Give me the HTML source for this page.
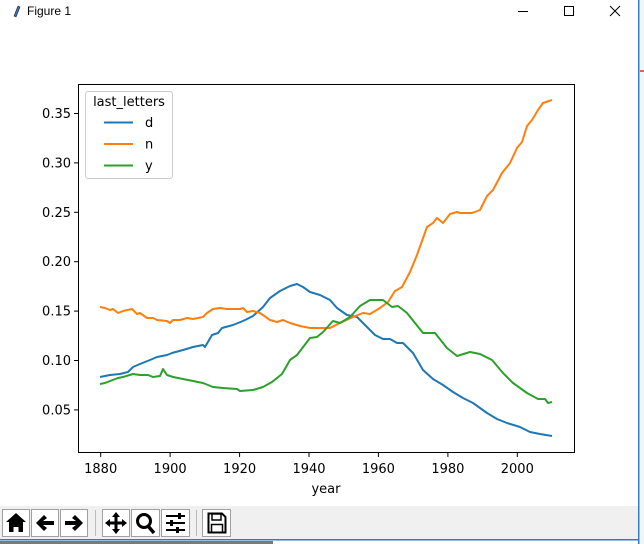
<!DOCTYPE html>
<html><head><meta charset="utf-8"><style>
html,body{margin:0;padding:0;width:644px;height:544px;overflow:hidden;background:#fff;}
svg{display:block;font-family:"DejaVu Sans","Liberation Sans",sans-serif;}
</style></head><body>
<svg width="644" height="544" viewBox="0 0 644 544" xmlns="http://www.w3.org/2000/svg">
<rect width="644" height="544" fill="#fff"/>
<!-- title bar -->
<path d="M14 16 L18 6 L20 7 L16 17 Z" fill="#3a6fc4" stroke="#222" stroke-width="0.6"/>
<text x="27" y="15" font-size="12" font-family="Liberation Sans, sans-serif" fill="#000">Figure 1</text>
<line x1="518" y1="11.5" x2="528" y2="11.5" stroke="#000" stroke-width="1"/>
<rect x="564.5" y="6.5" width="9" height="9" fill="none" stroke="#000" stroke-width="1"/>
<path d="M610 6 L620 16 M620 6 L610 16" stroke="#000" stroke-width="1"/>
<!-- right edge -->
<rect x="638" y="0" width="1.5" height="544" fill="#2b7bd3"/>
<rect x="640" y="0" width="4" height="544" fill="#f4f4f4"/>
<rect x="640" y="70" width="4" height="2" fill="#e06060"/>
<!-- axes -->
<rect x="78.5" y="84.5" width="496" height="368" fill="none" stroke="#000" stroke-width="1"/>
<g stroke="#000" stroke-width="1">
<line x1="74" y1="113.5" x2="78" y2="113.5"/><line x1="74" y1="162.9" x2="78" y2="162.9"/>
<line x1="74" y1="212.3" x2="78" y2="212.3"/><line x1="74" y1="261.7" x2="78" y2="261.7"/>
<line x1="74" y1="311.1" x2="78" y2="311.1"/><line x1="74" y1="360.5" x2="78" y2="360.5"/>
<line x1="74" y1="409.9" x2="78" y2="409.9"/>
<line x1="100.7" y1="453" x2="100.7" y2="457"/><line x1="170.1" y1="453" x2="170.1" y2="457"/>
<line x1="239.6" y1="453" x2="239.6" y2="457"/><line x1="309" y1="453" x2="309" y2="457"/>
<line x1="378.4" y1="453" x2="378.4" y2="457"/><line x1="447.9" y1="453" x2="447.9" y2="457"/>
<line x1="517.3" y1="453" x2="517.3" y2="457"/>
</g>
<g font-size="13" fill="#000" text-anchor="end">
<text x="71" y="118">0.35</text><text x="71" y="167.5">0.30</text><text x="71" y="217">0.25</text>
<text x="71" y="266">0.20</text><text x="71" y="315.5">0.15</text><text x="71" y="365">0.10</text>
<text x="71" y="414.5">0.05</text>
</g>
<g font-size="13" fill="#000" text-anchor="middle">
<text x="100.7" y="473">1880</text><text x="170.1" y="473">1900</text><text x="239.6" y="473">1920</text>
<text x="309" y="473">1940</text><text x="378.4" y="473">1960</text><text x="447.9" y="473">1980</text>
<text x="517.3" y="473">2000</text>
<text x="326" y="493">year</text>
</g>
<g fill="none" stroke-width="2" stroke-linejoin="round">
<polyline stroke="#1f77b4" points="100,377 110,375 120,374 128,372 133,367 140,364 150,360 157,357 167,355 172,353 183,350 193,347 203,345 205,347 212,335 218,333 222,328 233,325 243,321 253,316 263,307 270,298 280,291 290,286 297,284 303,287 310,292 320,295 330,300 337,308 347,315 357,317 363,323 375,335 383,339 390,339 397,343 403,343 413,353 423,370 433,379 443,385 453,392 463,398 473,403 487,413 497,419 507,423 520,427 530,432 540,434 552,436"/>
<polyline stroke="#ff7f0e" points="100,307 105,308 110,310 113,309 118,313 123,311 132,309 137,314 140,313 147,318 153,318 157,320 167,321 170,323 173,320 180,320 187,318 193,319 203,317 207,313 213,309 220,308 227,309 240,309 243,308 247,312 253,311 260,313 270,320 277,322 283,320 290,323 300,326 310,328 320,328 330,328 340,323 353,317 363,313 370,314 380,308 388,302 395,291 402,287 410,272 417,255 427,227 433,223 437,218 443,223 450,214 457,212 460,213 472,213 480,210 487,196 493,190 502,173 510,163 517,148 522,142 527,126 532,120 538,110 543,103 552,100"/>
<polyline stroke="#2ca02c" points="100,384 105,383 110,381 118,378 123,377 133,374 140,375 148,375 153,377 160,376 163,369 167,375 173,377 183,379 193,381 203,383 213,387 223,388 237,389 240,391 253,390 263,387 272,382 282,374 290,360 297,355 310,338 317,337 323,332 333,321 340,323 350,317 360,306 370,300 383,300 392,307 398,306 407,313 415,323 423,333 435,333 447,348 457,356 470,352 480,354 492,360 503,373 513,383 527,393 538,399 545,399 548,403 552,402"/>
</g>
<!-- legend -->
<rect x="85.5" y="91.5" width="87" height="87" rx="2.5" fill="#fff" fill-opacity="0.8" stroke="#ccc" stroke-width="1"/>
<text x="129" y="106" font-size="13" text-anchor="middle" fill="#000">last_letters</text>
<line x1="104" y1="122.5" x2="133" y2="122.5" stroke="#1f77b4" stroke-width="2"/>
<line x1="104" y1="144" x2="133" y2="144" stroke="#ff7f0e" stroke-width="2"/>
<line x1="104" y1="165.5" x2="133" y2="165.5" stroke="#2ca02c" stroke-width="2"/>
<g font-size="13" fill="#000"><text x="145" y="127">d</text><text x="145" y="148.5">n</text><text x="145" y="170">y</text></g>
<!-- toolbar -->
<rect x="0" y="506" width="638" height="33" fill="#f0f0f0"/>
<rect x="0" y="539" width="638" height="1.5" fill="#2b7bd3"/>
<rect x="0" y="541" width="273" height="3" fill="#7a7a7a"/>
<g fill="#fff" stroke="#a0a0a0" stroke-width="1">
<rect x="2.5" y="509.5" width="27" height="27"/><rect x="31.5" y="509.5" width="27" height="27"/>
<rect x="60.5" y="509.5" width="27" height="27"/><rect x="102.5" y="509.5" width="27" height="27"/>
<rect x="131.5" y="509.5" width="28" height="27"/><rect x="161.5" y="509.5" width="28" height="27"/>
<rect x="202.5" y="509.5" width="28" height="27"/>
</g>
<line x1="95.5" y1="510" x2="95.5" y2="536" stroke="#bbb"/>
<line x1="196.5" y1="510" x2="196.5" y2="536" stroke="#bbb"/>
<g fill="#000">
<path d="M16 513 L26 522 L23 522 L23 532 L18.5 532 L18.5 527 L13.5 527 L13.5 532 L9 532 L9 522 L6 522 Z"/>
<path d="M36 523 L44 515 L47 518 L43 521 L54 521 L54 525 L43 525 L47 528 L44 531 Z"/>
<path d="M83 523 L75 515 L72 518 L76 521 L65 521 L65 525 L76 525 L72 528 L75 531 Z"/>
<path d="M116 512 L120 517 L117.5 517 L117.5 521.5 L122 521.5 L122 519 L127 523 L122 527 L122 524.5 L117.5 524.5 L117.5 529 L120 529 L116 534 L112 529 L114.5 529 L114.5 524.5 L110 524.5 L110 527 L105 523 L110 519 L110 521.5 L114.5 521.5 L114.5 517 L112 517 Z"/>
</g>
<circle cx="144" cy="521" r="6.5" fill="none" stroke="#000" stroke-width="3"/>
<line x1="148" y1="526" x2="154" y2="533" stroke="#000" stroke-width="3.5"/>
<g stroke="#000" stroke-width="2"><line x1="166" y1="516" x2="185" y2="516"/><line x1="166" y1="523" x2="185" y2="523"/><line x1="166" y1="530" x2="185" y2="530"/></g>
<g fill="#000"><rect x="178" y="513" width="3" height="6"/><rect x="170" y="520" width="3" height="6"/><rect x="176" y="527" width="3" height="6"/></g>
<path d="M208.5 513.5 H222 L225.5 517 V532.5 H208.5 Z" fill="none" stroke="#000" stroke-width="2"/>
<rect x="212" y="514" width="9" height="6" fill="none" stroke="#000" stroke-width="1.5"/>
<rect x="211.5" y="524.5" width="11" height="8" fill="none" stroke="#000" stroke-width="1.5"/>
</svg>
</body></html>
